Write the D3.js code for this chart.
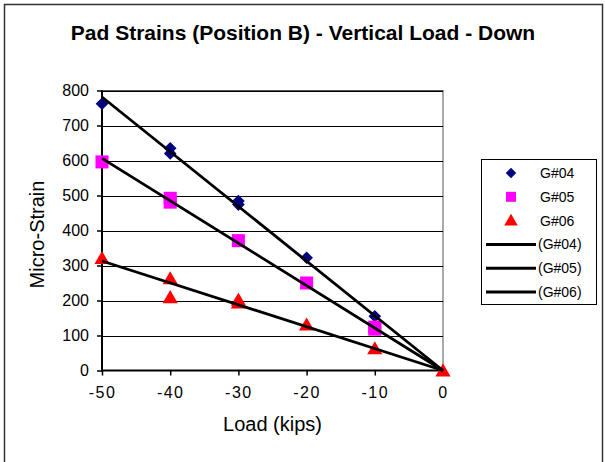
<!DOCTYPE html>
<html><head><meta charset="utf-8">
<script src="https://cdn.jsdelivr.net/npm/d3@7"></script>
<style>body{margin:0;background:#fff}svg{display:block;font-family:Arial,"Liberation Sans",sans-serif}</style>
</head><body><svg id="c" width="605" height="462"></svg>
<script>
const titleText = "Pad Strains (Position B) - Vertical Load - Down";
const xTitle = "Load (kips)";
const yTitle = "Micro-Strain";
const xTicks = [-50, -40, -30, -20, -10, 0];
const yTicks = [0, 100, 200, 300, 400, 500, 600, 700, 800];

const g04Load = [-50, -40, -40, -30, -30, -20, -10];
const g04Strain = [762, 635, 620, 484, 474, 322, 155];
const g05Load = [-50, -40, -40, -30, -20, -10, -10];
const g05Strain = [596, 492, 481, 371, 250, 124, 118];
const g06Load = [-50, -40, -40, -30, -30, -20, -10, 0];
const g06Strain = [321, 263, 209, 202, 194, 131, 63, 0];

const seriesNames = ["G#04", "G#05", "G#06"];
const trendNames = ["(G#04)", "(G#05)", "(G#06)"];
const colors = ["#000080", "#FF00FF", "#FF0000"];

const svg = d3.select("#c");
const L = 102, R = 443, T = 90.5, B = 370.5;
const x = d3.scaleLinear().domain([-50, 0]).range([L, R]);
const y = d3.scaleLinear().domain([0, 800]).range([B, T]);

// outer border
svg.append("rect").attr("x", 4.5).attr("y", 4.5).attr("width", 598).attr("height", 470)
  .attr("fill", "#fff").attr("stroke", "#333").attr("stroke-width", 1.5);

// title
svg.append("text").attr("x", 303).attr("y", 40).attr("text-anchor", "middle")
  .attr("font-weight", "bold").attr("font-size", 21).text(titleText);

// plot border and gridlines
svg.append("rect").attr("x", L).attr("y", T).attr("width", R - L).attr("height", B - T)
  .attr("fill", "none").attr("stroke", "#555").attr("stroke-width", 1);
svg.append("g").selectAll("line").data(yTicks.filter(d => d > 0)).join("line")
  .attr("x1", L).attr("x2", R).attr("y1", d => Math.round(y(d)) + 0.5).attr("y2", d => Math.round(y(d)) + 0.5)
  .attr("stroke", "#000").attr("stroke-width", 1);

// axes
const yAxis = svg.append("g").attr("transform", `translate(${L},0)`)
  .call(d3.axisLeft(y).tickValues(yTicks).tickSize(5).tickPadding(8).tickFormat(d3.format("d")));
const xAxis = svg.append("g").attr("transform", `translate(0,${B})`)
  .call(d3.axisBottom(x).tickValues(xTicks).tickSize(5).tickPadding(11).tickFormat(d3.format("d")));
[yAxis, xAxis].forEach(a => {
  a.select(".domain").remove();
  a.selectAll("line").attr("stroke", "#000").attr("stroke-width", 1.5);
  a.selectAll("text").attr("font-size", 16).attr("fill", "#000").attr("font-family", "Arial, 'Liberation Sans', sans-serif");
});
xAxis.selectAll("text").attr("letter-spacing", "1.5px").attr("dy", "0.71em")
  .text(d => d < 0 ? "-" + Math.abs(d) : d);
svg.append("line").attr("x1", L).attr("x2", L).attr("y1", T).attr("y2", B + 1).attr("stroke", "#000").attr("stroke-width", 2);
svg.append("line").attr("x1", L).attr("x2", R).attr("y1", B).attr("y2", B).attr("stroke", "#000").attr("stroke-width", 2);

// axis titles
svg.append("text").attr("x", (L + R) / 2).attr("y", 431).attr("text-anchor", "middle")
  .attr("font-size", 20).text(xTitle);
svg.append("text").attr("transform", `translate(44,${(T + B) / 2 + 4}) rotate(-90)`).attr("text-anchor", "middle")
  .attr("font-size", 20).text(yTitle);

// markers
const symDiamond = d3.symbol(d3.symbolSquare, 80);
const symSquare = d3.symbol(d3.symbolSquare, 170);
const symTri = d3.symbol(d3.symbolTriangle, 100);
const series = [
  {lx: g04Load, ly: g04Strain, sym: symDiamond, rot: 45, dy: 0},
  {lx: g05Load, ly: g05Strain, sym: symSquare, rot: 0, dy: 0},
  {lx: g06Load, ly: g06Strain, sym: symTri, rot: 0, dy: 1.5}
];
series.forEach((s, i) => {
  svg.append("g").selectAll("path").data(s.lx.map((v, k) => [v, s.ly[k]])).join("path")
    .attr("d", s.sym)
    .attr("transform", d => `translate(${x(d[0])},${y(d[1]) + s.dy}) rotate(${s.rot})`)
    .attr("fill", colors[i]);
});

// trendlines: least squares through origin
series.forEach((s) => {
  const sxy = d3.sum(s.lx, (v, k) => v * s.ly[k]);
  const sxx = d3.sum(s.lx, v => v * v);
  const m = sxy / sxx;
  svg.append("line").attr("x1", x(-50)).attr("y1", y(m * -50)).attr("x2", x(0)).attr("y2", y(0))
    .attr("stroke", "#000").attr("stroke-width", 2.8);
});

// legend
const lg = svg.append("g");
lg.append("rect").attr("x", 481.5).attr("y", 159.5).attr("width", 115).attr("height", 145)
  .attr("fill", "#fff").attr("stroke", "#000").attr("stroke-width", 1);
const ly0 = 173, lstep = 23.8;
seriesNames.forEach((n, i) => {
  const s = series[i];
  lg.append("path").attr("d", i === 1 ? d3.symbol(d3.symbolSquare, 100)() : (i === 0 ? d3.symbol(d3.symbolSquare, 55)() : d3.symbol(d3.symbolTriangle, 80)()))
    .attr("transform", `translate(511,${ly0 + i * lstep + (i === 2 ? 1 : 0)}) rotate(${s.rot})`).attr("fill", colors[i]);
  lg.append("text").attr("x", 540).attr("y", ly0 + i * lstep + 5).attr("font-size", 14).text(n);
});
trendNames.forEach((n, i) => {
  const yy = ly0 + (i + 3) * lstep;
  lg.append("line").attr("x1", 486).attr("x2", 536).attr("y1", yy).attr("y2", yy).attr("stroke", "#000").attr("stroke-width", 3);
  lg.append("text").attr("x", 538).attr("y", yy + 5).attr("font-size", 14).text(n);
});
</script></body></html>
